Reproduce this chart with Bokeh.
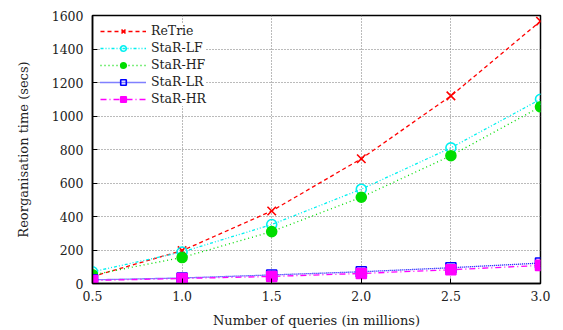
from bokeh.plotting import figure
from bokeh.models import FixedTicker, NumeralTickFormatter, Range1d, Legend, LegendItem
from bokeh.embed import file_html
from bokeh.resources import INLINE

queries = [0.5, 1.0, 1.5, 2.0, 2.5, 3.0]
retrie = [42, 196, 433, 745, 1120, 1566]
star_lf = [70, 188, 352, 563, 810, 1100]
star_hf = [52, 155, 310, 515, 763, 1055]
star_lr = [22, 33, 51, 70, 94, 122]
star_hr = [18, 30, 42, 60, 82, 108]
x_ticks = [0.5, 1.0, 1.5, 2.0, 2.5, 3.0]
y_ticks = [0, 200, 400, 600, 800, 1000, 1200, 1400, 1600]

FONT = "DejaVu Serif"

p = figure(width=563, height=330, output_backend="svg", toolbar_location=None,
           x_range=Range1d(0.5, 3.0), y_range=Range1d(0, 1600),
           min_border_left=92, min_border_right=23, min_border_top=15, min_border_bottom=43)

p.outline_line_color = "black"
p.outline_line_width = 1.5
p.background_fill_color = "white"

for ax in (p.xaxis[0], p.yaxis[0]):
    ax.major_tick_in = 5
    ax.major_tick_out = 0
    ax.minor_tick_line_color = None
    ax.axis_line_color = "black"
    ax.axis_line_width = 1.5
    ax.major_label_text_font = FONT
    ax.major_label_text_font_size = "12.5px"
    ax.major_label_text_color = "#222222"
    ax.axis_label_text_font = FONT
    ax.axis_label_text_font_size = "13px"
    ax.axis_label_text_font_style = "normal"
    ax.axis_label_text_color = "#222222"

p.xaxis[0].ticker = FixedTicker(ticks=x_ticks)
p.xaxis[0].formatter = NumeralTickFormatter(format="0.0")
p.xaxis[0].axis_label = "Number of queries (in millions)"
p.xaxis[0].major_label_standoff = 7
p.xaxis[0].axis_label_standoff = 9
p.yaxis[0].ticker = FixedTicker(ticks=y_ticks)
p.yaxis[0].axis_label = "Reorganisation time (secs)"
p.yaxis[0].major_label_standoff = 9
p.yaxis[0].axis_label_standoff = 18

p.xgrid.ticker = FixedTicker(ticks=x_ticks)
p.ygrid.ticker = FixedTicker(ticks=y_ticks)
for g in (p.xgrid[0], p.ygrid[0]):
    g.grid_line_color = "#777777"
    g.grid_line_dash = "1 2"
    g.grid_line_width = 1

series = [
    ("ReTrie", retrie, "#ff0000", "4 3", "x", None, 12),
    ("StaR-LF", star_lf, "#00f0f0", "3 2 1 2 1 2", "circle", None, 10),
    ("StaR-HF", star_hf, "#00dd00", "1 3", "circle", "#00dd00", 10),
    ("StaR-LR", star_lr, "#0000ff", "1 1", "square", None, 10),
    ("StaR-HR", star_hr, "#ff00ff", "6 3 1 3", "square", "#ff00ff", 10),
]

items = []
for name, ys, color, dash, marker, fc, sz in series:
    l = p.line(queries, ys, line_color=color, line_dash=dash, line_width=1.3)
    s = p.scatter(queries, ys, marker=marker, size=sz, line_color=color, line_width=1.6,
                  fill_color=fc)
    items.append(LegendItem(label=name, renderers=[l, s]))

legend = Legend(items=items, location="top_left",
                label_text_font=FONT, label_text_font_size="12.5px", label_text_color="#222222",
                glyph_width=46, glyph_height=14, label_height=14, spacing=2,
                padding=4, margin=8, background_fill_color="white", background_fill_alpha=1,
                border_line_color=None)
p.add_layout(legend, "center")

open("out.html", "w").write(file_html(p, INLINE))
